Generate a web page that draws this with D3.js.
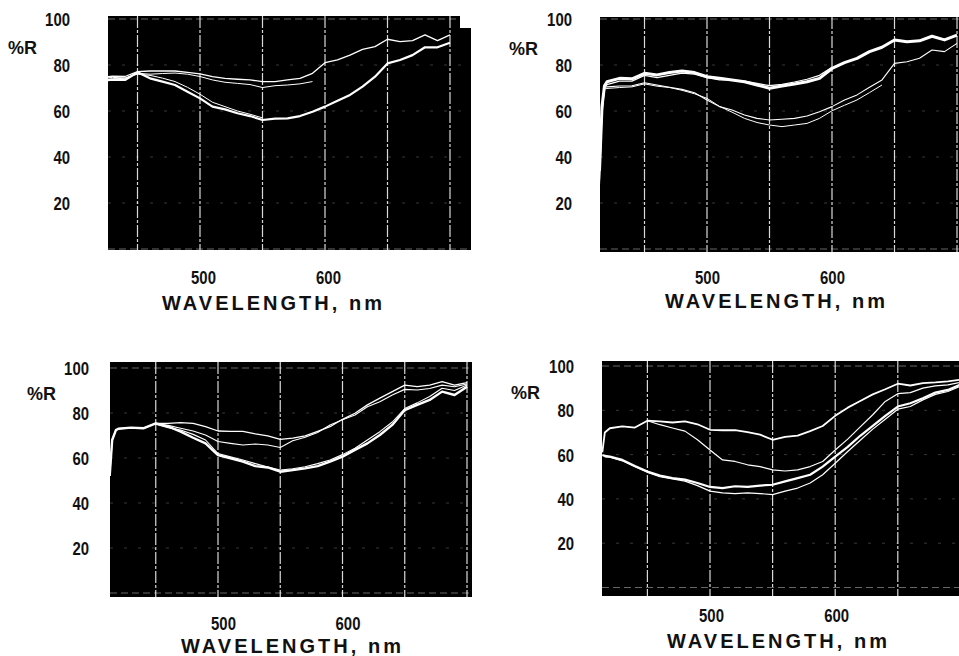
<!DOCTYPE html>
<html>
<head>
<meta charset="utf-8">
<script src="https://cdn.jsdelivr.net/npm/d3@7"></script>
<style>
  html, body { margin: 0; padding: 0; background: #fff; }
  svg { display: block; }
  .tick text {
    font-family: "Liberation Sans", Arial, sans-serif;
    font-weight: 700; font-size: 18.5px; fill: #111;
  }
  .rlabel { font-family: "Liberation Sans", Arial, sans-serif; font-weight: 700; font-size: 18px; fill: #111; }
  .xtitle { font-family: "Liberation Sans", Arial, sans-serif; font-weight: 700; font-size: 20px; fill: #111; }
</style>
</head>
<body>
<svg id="chart" width="959" height="656"></svg>
<script>
// Reflectance spectra (%R vs wavelength, nm), four panels, four traces each.
const yTicks = [20, 40, 60, 80, 100];
const xTicks = [500, 600];
const gridWavelengths = [450, 500, 550, 600, 650, 700];
const gridReflectance = [0, 20, 40, 60, 80, 100];

// Panel 1 (top left)
const p1Wavelength = [425, 430, 440, 450, 460, 470, 480, 490, 500, 510, 520, 530, 540, 550, 560, 570, 580, 590, 600, 610, 620, 630, 640, 650, 660, 670, 680, 690, 700];
const p1A = [74.9, 75.2, 75.0, 77.1, 77.4, 77.4, 77.4, 76.8, 76.1, 74.9, 74.2, 73.8, 73.5, 72.8, 72.8, 73.5, 74.2, 76.4, 81.0, 82.2, 84.3, 86.8, 88.0, 91.2, 90.2, 90.6, 93.1, 90.6, 93.1];
const p1B = [73.8, 74.0, 74.2, 76.4, 76.0, 76.3, 76.5, 76.0, 75.0, 73.5, 72.5, 72.0, 71.5, 70.2, 71.0, 71.3, 71.8, 72.8, null, null, null, null, null, null, null, null, null, null, null];
const p1C = [73.4, 73.6, 73.5, 76.8, 74.2, 72.8, 71.3, 68.4, 65.5, 61.9, 60.7, 59.0, 57.8, 56.1, 56.7, 56.8, 57.8, 59.7, 61.9, 64.5, 67.0, 70.6, 74.9, 80.7, 82.2, 84.3, 87.7, 87.7, 89.7];
const p1D = [74.4, 74.6, 74.4, 76.0, 75.5, 74.3, 72.8, 70.3, 67.3, 63.8, 61.9, 60.0, 58.6, 57.0, null, null, null, null, null, null, null, null, null, null, null, null, null, null, null];

// Panel 2 (top right)
const p2Wavelength = [414, 416, 418, 420, 430, 440, 450, 460, 470, 480, 490, 500, 510, 520, 530, 540, 550, 560, 570, 580, 590, 600, 610, 620, 630, 640, 650, 660, 670, 680, 690, 700];
const p2A = [34, 62, 71, 72.7, 74.2, 74.0, 76.4, 75.7, 76.7, 77.4, 76.7, 74.9, 74.2, 73.5, 72.7, 71.3, 69.9, 70.9, 71.7, 72.7, 74.2, 78.5, 81.0, 82.9, 85.8, 87.7, 90.9, 90.1, 90.5, 92.5, 90.9, 93.0];
const p2B = [30, 60, 70, 71.5, 73.0, 73.0, 75.5, 74.5, 75.5, 76.5, 76.0, 74.5, 73.5, 73.4, 73.0, 72.0, 71.0, 71.6, 72.6, 73.8, 75.5, 79.0, null, null, null, null, null, null, null, null, null, null];
const p2C = [28, 58, 70.3, 70.5, 70.9, 71.0, 72.3, 71.3, 70.3, 69.4, 67.9, 64.8, 61.9, 60.4, 58.3, 56.8, 56.1, 56.4, 56.8, 57.8, 59.7, 61.9, 64.8, 67.0, 70.3, 73.5, 80.7, 81.4, 82.9, 86.5, 85.8, 89.4];
const p2D = [null, null, 69.5, 69.8, 70.2, 70.5, 71.8, 70.8, 70.2, 69.0, 67.5, 65.5, 62.0, 59.5, 56.8, 55.0, 53.9, 53.2, 53.9, 54.6, 56.8, 60.1, 62.5, 64.8, 68.0, 71.3, null, null, null, null, null, null];

// Panel 3 (bottom left)
const p3Wavelength = [413, 415, 418, 420, 430, 440, 450, 460, 470, 480, 490, 500, 510, 520, 530, 540, 550, 560, 570, 580, 590, 600, 610, 620, 630, 640, 650, 660, 670, 680, 690, 700];
const p3A = [52, 68, 72.4, 73.0, 73.5, 73.2, 75.4, 75.4, 75.7, 75.4, 73.9, 72.0, 71.8, 71.8, 70.7, 69.8, 68.3, 68.8, 69.8, 71.8, 73.9, 77.2, 79.9, 83.6, 86.6, 89.5, 92.4, 91.7, 92.4, 93.9, 92.4, 93.5];
const p3B = [null, null, null, null, null, null, 75.0, 74.5, 73.2, 72.0, 70.2, 67.3, 66.5, 65.8, 66.2, 65.8, 64.7, 67.7, 69.2, 71.3, 74.7, 77.0, 79.1, 82.8, 85.0, 88.0, 90.5, 90.2, 90.9, 92.4, 91.7, 92.9];
const p3C = [52, 68, 72.4, 73.0, 73.5, 73.2, 75.4, 74.0, 71.7, 69.0, 66.5, 61.3, 59.9, 58.4, 56.4, 55.8, 53.9, 54.6, 55.4, 56.4, 58.4, 60.6, 63.6, 66.5, 70.2, 74.7, 81.3, 83.6, 85.8, 89.5, 88.0, 91.7];
const p3D = [null, null, null, null, null, null, 75.0, 73.5, 72.4, 70.5, 68.0, 62.0, 60.5, 59.1, 57.5, 56.0, 54.6, 55.2, 56.1, 57.5, 59.1, 61.5, 64.3, 68.0, 71.7, 76.0, 82.0, 84.5, 87.3, 91.0, 90.0, 92.4];

// Panel 4 (bottom right)
const p4Wavelength = [414, 416, 420, 430, 440, 450, 460, 470, 480, 490, 500, 510, 520, 530, 540, 550, 560, 570, 580, 590, 600, 610, 620, 630, 640, 650, 660, 670, 680, 690, 700];
const p4A = [61, 70, 71.9, 72.7, 72.2, 75.3, 75.0, 74.5, 75.0, 73.7, 71.2, 71.0, 71.0, 70.1, 69.0, 66.7, 68.0, 68.6, 70.6, 72.9, 77.5, 81.2, 84.2, 87.2, 89.5, 92.0, 91.2, 92.3, 92.6, 93.1, 93.8];
const p4B = [null, null, null, null, null, 75.3, 73.5, 72.0, 70.6, 66.7, 62.1, 57.6, 56.9, 55.4, 54.6, 53.1, 52.6, 53.1, 54.6, 56.9, 62.1, 67.0, 72.5, 78.0, 84.0, 87.5, 88.0, 90.0, 91.0, 91.5, 92.6];
const p4C = [59.8, 59.4, 59.1, 57.6, 54.9, 52.4, 50.5, 49.4, 48.7, 47.2, 45.4, 44.9, 45.7, 45.4, 46.0, 46.4, 47.9, 49.4, 50.9, 54.6, 59.1, 63.5, 68.5, 73.0, 77.5, 81.7, 83.2, 85.4, 88.0, 89.2, 91.6];
const p4D = [null, 59.0, 58.8, 57.2, 54.5, 52.0, 50.0, 49.0, 48.0, 46.0, 43.5, 42.7, 42.4, 42.7, 42.4, 41.9, 43.5, 44.9, 47.2, 50.9, 56.1, 61.4, 66.5, 71.5, 76.0, 80.5, 81.7, 84.7, 87.2, 88.5, 90.8];

// Panel layout: frame, scale anchors and label placement
const panels = [
  { wl: p1Wavelength, series: [p1A, p1B, p1C, p1D], widths: [1.3, 1.0, 2.2, 1.0],
    box: [108, 460, 16, 250], ext: [458, 471, 28, 250],
    x500: 200, x600: 325, y0: 249, y100: 19,
    yLabelX: 70, xLabelY: 277, xLabelDx: 3, r: [8, 53.5], title: [272, 309.5] },
  { wl: p2Wavelength, series: [p2A, p2B, p2C, p2D], widths: [3.0, 1.2, 1.1, 1.0],
    box: [600, 959, 17, 252], ext: null,
    x500: 707, x600: 832, y0: 249, y100: 19,
    yLabelX: 572, xLabelY: 277, xLabelDx: 0, r: [509, 54.5], title: [775, 307.5] },
  { wl: p3Wavelength, series: [p3A, p3B, p3C, p3D], widths: [1.3, 1.1, 2.4, 1.1],
    box: [110, 472, 362, 597], ext: null,
    x500: 218, x600: 342.5, y0: 593, y100: 368,
    yLabelX: 89, xLabelY: 623, xLabelDx: 5, r: [27, 399.5], title: [291, 652.5] },
  { wl: p4Wavelength, series: [p4A, p4B, p4C, p4D], widths: [1.8, 1.2, 2.2, 1.2],
    box: [602, 959, 361, 596], ext: null,
    x500: 710, x600: 835.2, y0: 587.5, y100: 366,
    yLabelX: 574, xLabelY: 615, xLabelDx: 1, r: [511, 398.5], title: [777, 647.5] }
];

const digitWidth = 8.3; // narrow bold numerals

const svg = d3.select("#chart");
const defs = svg.append("defs");

panels.forEach((p, i) => {
  const x = d3.scaleLinear().domain([500, 600]).range([p.x500, p.x600]);
  const y = d3.scaleLinear().domain([0, 100]).range([p.y0, p.y100]);
  const g = svg.append("g");

  // black recording field
  const [bx0, bx1, by0, by1] = p.box;
  g.append("rect").attr("x", bx0).attr("y", by0).attr("width", bx1 - bx0).attr("height", by1 - by0).attr("fill", "#000");
  if (p.ext) {
    const [ex0, ex1, ey0, ey1] = p.ext;
    g.append("rect").attr("x", ex0).attr("y", ey0).attr("width", ex1 - ex0).attr("height", ey1 - ey0).attr("fill", "#000");
  }

  const clipId = "clip" + i;
  defs.append("clipPath").attr("id", clipId)
    .append("rect").attr("x", bx0).attr("y", by0).attr("width", (p.ext ? p.ext[1] : bx1) - bx0).attr("height", by1 - by0);
  const field = g.append("g").attr("clip-path", `url(#${clipId})`);

  // horizontal reflectance grid (faint dotted)
  field.selectAll(".hgrid").data(gridReflectance).join("line")
    .attr("x1", bx0).attr("x2", p.ext ? p.ext[1] : bx1)
    .attr("y1", d => y(d)).attr("y2", d => y(d))
    .attr("stroke", "#fff")
    .attr("stroke-width", 1)
    .attr("stroke-opacity", d => (d === 0 || d === 100) ? 0.4 : 0.22)
    .attr("stroke-dasharray", d => (d === 0 || d === 100) ? "7,4" : "3,11");

  // vertical wavelength grid
  field.selectAll(".vgrid").data(gridWavelengths).join("line")
    .attr("x1", d => x(d)).attr("x2", d => x(d))
    .attr("y1", by0).attr("y2", by1)
    .attr("stroke", "#fff")
    .attr("stroke-width", 1.2)
    .attr("stroke-opacity", 0.85)
    .attr("stroke-dasharray", "12,2,3,2");

  // reflectance traces
  const line = d3.line()
    .defined(d => d[1] != null)
    .x(d => x(d[0]))
    .y(d => y(d[1]));
  p.series.forEach((s, k) => {
    field.append("path")
      .datum(p.wl.map((w, j) => [w, s[j]]))
      .attr("d", line)
      .attr("fill", "none")
      .attr("stroke", "#fff")
      .attr("stroke-width", p.widths[k])
      .attr("stroke-linejoin", "round");
  });

  // y axis labels
  const yAxis = g.append("g").attr("transform", `translate(${p.yLabelX},0)`)
    .call(d3.axisLeft(y).tickValues(yTicks).tickSize(0).tickPadding(0).tickFormat(d3.format("d")));
  yAxis.select(".domain").remove();
  yAxis.selectAll(".tick text").attr("dy", "0.36em")
    .attr("textLength", d => String(d).length * digitWidth)
    .attr("lengthAdjust", "spacingAndGlyphs");

  // x axis labels
  const xAxis = g.append("g").attr("transform", `translate(${p.xLabelDx},${p.xLabelY})`)
    .call(d3.axisBottom(x).tickValues(xTicks).tickSize(0).tickPadding(0).tickFormat(d3.format("d")));
  xAxis.select(".domain").remove();
  xAxis.selectAll(".tick text").attr("y", 0).attr("dy", "0.36em")
    .attr("textLength", d => String(d).length * digitWidth)
    .attr("lengthAdjust", "spacingAndGlyphs");

  // axis titles
  g.append("text").attr("class", "rlabel").attr("x", p.r[0]).attr("y", p.r[1]).text("%R");
  g.append("text").attr("class", "xtitle")
    .attr("x", p.title[0]).attr("y", p.title[1])
    .attr("text-anchor", "middle")
    .attr("textLength", 220).attr("lengthAdjust", "spacing")
    .text("WAVELENGTH, nm");
});
</script>
</body>
</html>
